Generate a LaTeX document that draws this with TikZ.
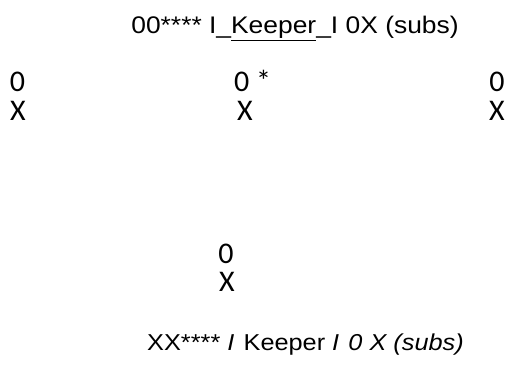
\documentclass[tikz,border=0pt]{standalone}
\usepackage{fontspec}
\setmainfont{Liberation Sans}[FakeStretch=1.1]
\newfontfamily\calfont{Carlito}
\begin{document}
\begin{tikzpicture}[x=1pt,y=-1pt,
  ttl/.style={anchor=base,inner sep=0pt,font=\fontsize{24}{28}\selectfont},
  mark0/.style={anchor=base,inner sep=0pt,font=\calfont\fontsize{30}{32}\selectfont}]
\useasboundingbox (0,0) rectangle (510,366);
\node[ttl] (title) at (295,34) {00**** I\_\underline{Keeper}\_I 0X (subs)};
\node[mark0] (l0) at (17.5,92) {0};
\node[mark0] (lx) at (18,121) {X};
\node[mark0,anchor=base west] (m0) at (234,92) {0 *};
\node[mark0] (mx) at (245,121) {X};
\node[mark0] (r0) at (497,92) {0};
\node[mark0] (rx) at (497,121) {X};
\node[mark0] (b0) at (226,263) {0};
\node[mark0] (bx) at (227,291) {X};
\node[ttl,font=\fontsize{23}{28}\selectfont] (foot) at (305.5,350) {XX**** \textit{I}\hspace{0.4em}Keeper \textit{I}\hspace{0.4em}\textit{0 X (subs)}};
\end{tikzpicture}
\end{document}
